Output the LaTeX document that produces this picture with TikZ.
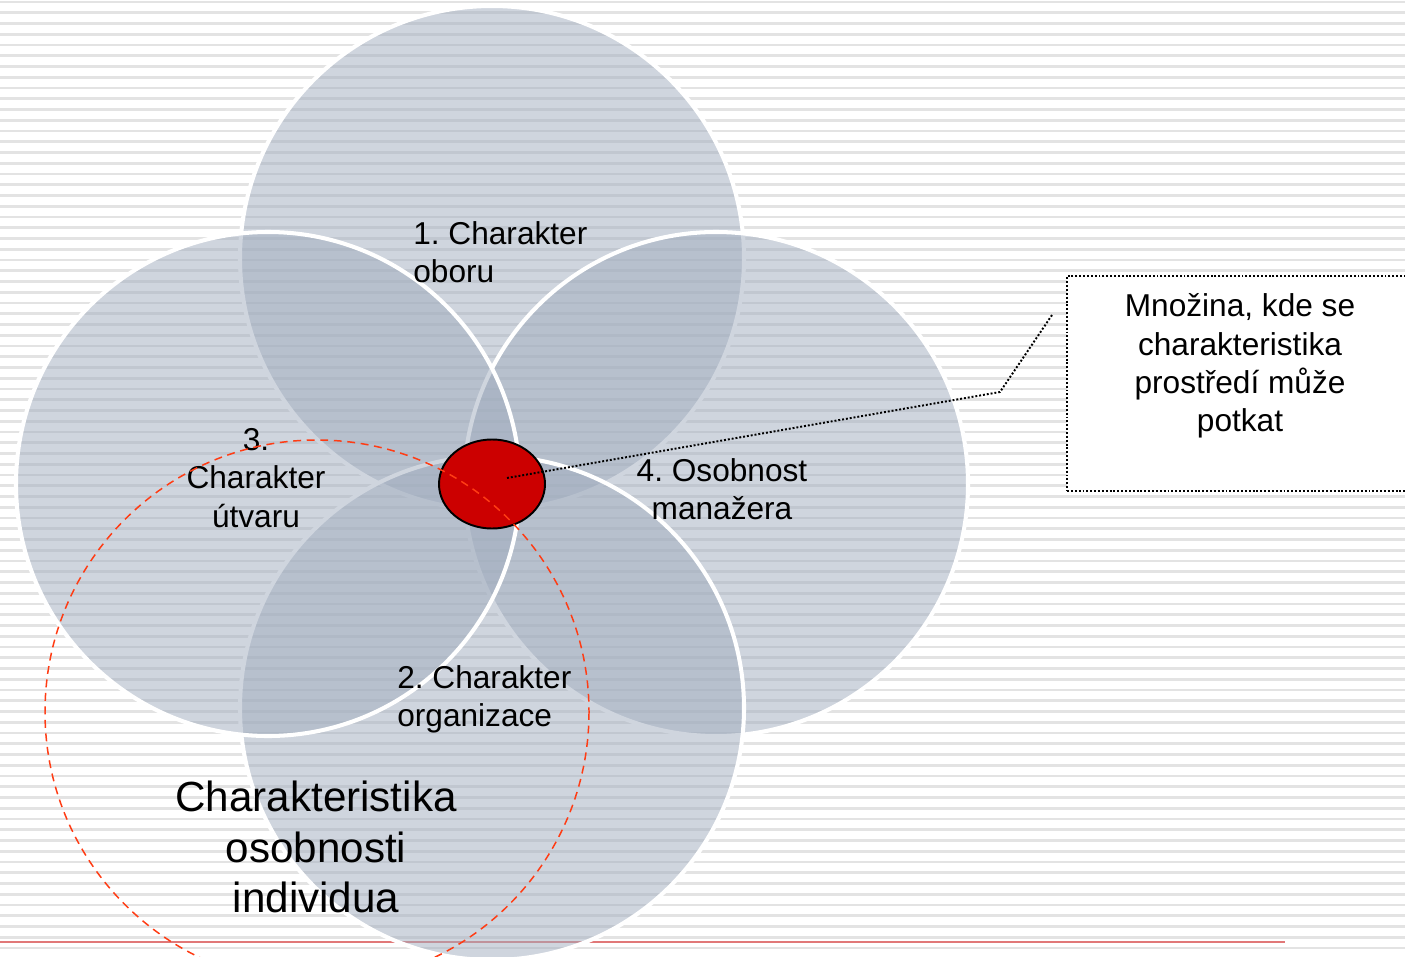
\documentclass[tikz,border=0pt]{standalone}
\usepackage{fontspec}
\setmainfont{Liberation Sans}
\usepackage{tikz}
\usetikzlibrary{positioning}

\definecolor{venngray}{RGB}{160,172,190}
\definecolor{setred}{RGB}{204,0,0}
\definecolor{dashred}{RGB}{255,60,20}
\definecolor{rulered}{RGB}{225,120,120}

\tikzset{
    stripe/.style={line width=1.6pt, black!11},
    venn/.style={fill=venngray, fill opacity=0.5, draw=white, line width=2.3pt},
    label/.style={inner sep=0pt, font=\fontsize{18}{21.8}\selectfont\frenchspacing},
    biglabel/.style={inner sep=0pt, font=\fontsize{24}{28.9}\selectfont, align=center},
    dotline/.style={line width=1.1pt, dash pattern=on 1.1pt off 1.1pt},
}

\begin{document}
\begin{tikzpicture}[x=0.02cm, y=-0.02cm]
        \useasboundingbox (0,0) rectangle (1405,956);
        \clip (0,0) rectangle (1405,956);
        %背景の横線
        \fill[white] (0,0) rectangle (1405,956);
        \foreach \i in {0,...,88}
            \draw[stripe] (0,\i*10.75+2) -- (1405,\i*10.75+2);
        \draw[rulered, line width=1.3pt] (0,942) -- (1285,942);

        %四つの円（上, 右, 下, 左の順）
        \filldraw[venn] (492,258) circle (252);
        \filldraw[venn] (716,484) circle (252);
        \filldraw[venn] (492,708) circle (252);
        \filldraw[venn] (268,484) circle (252);

        \node[label, anchor=west, align=left] (oboru) at (413,252) {1. Charakter\\oboru};
        \node[label, anchor=west, align=left] (organizace) at (397,699) {2. Charakter\\organizace};
        \node[label, align=center] (utvar) at (256,478) {3.\\Charakter\\útvaru};
        \node[label, align=center] (manazer) at (722,489) {4. Osobnost\\manažera};
        \node[biglabel] (individuum) at (316,847) {Charakteristika\\osobnosti\\individua};

        %共通部分
        \filldraw[fill=setred, draw=black, line width=1.1pt] (492,484) ellipse (53 and 44.5);
        \draw[dashred, line width=0.85pt, dash pattern=on 4.5pt off 3.2pt] (317,712) circle (272);

        %説明の枠
        \node[draw, dotline, fill=white, minimum width=6.96cm, minimum height=4.3cm] (note) at (1241,383.5) {};
        \node[label, align=center] (notetext) at (1240,366) {Množina, kde se\\charakteristika\\prostředí může\\potkat};
        \coordinate (start) at (507,478);
        \coordinate (knee) at (1000,392);
        \coordinate (tip) at (1052,315);
        \draw[dotline] (start) -- (knee) -- (tip);
    \end{tikzpicture}
\end{document}
